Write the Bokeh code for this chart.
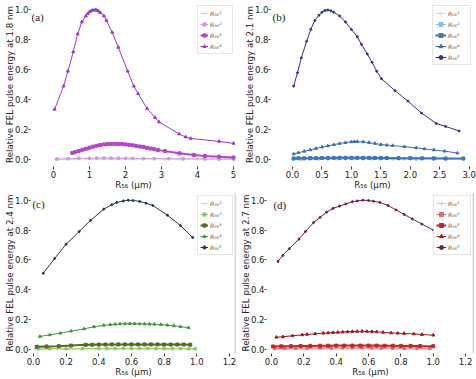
from bokeh.plotting import figure
from bokeh.layouts import column, row
from bokeh.models import FixedTicker, Label, Span, PrintfTickFormatter
from bokeh.embed import file_html
from bokeh.resources import INLINE

# ---------------- data ----------------
# panel (a) 1.8 nm
A_R1_x = [0.05, 0.3, 0.6, 0.9, 1.1, 1.3, 1.5, 1.7, 1.9, 2.1, 2.3, 2.5, 2.8, 3.1, 3.5, 4.0, 4.4, 4.7, 5.0]
A_R1_y = [0.001, 0.002, 0.002, 0.003, 0.003, 0.003, 0.003, 0.003, 0.003, 0.003, 0.002, 0.002, 0.002, 0.002, 0.001, 0.001, 0.001, 0.001, 0.001]
A_R2_x = [0.1, 0.4, 0.7, 1.0, 1.2, 1.4, 1.6, 1.8, 2.0, 2.2, 2.5, 2.8, 3.2, 3.6, 4.2, 4.6, 5.0]
A_R2_y = [0.002, 0.004, 0.006, 0.007, 0.008, 0.008, 0.008, 0.007, 0.007, 0.006, 0.005, 0.005, 0.004, 0.003, 0.003, 0.002, 0.002]
A_R3_x = [0.52, 0.6, 0.7, 0.8, 0.9, 1.0, 1.1, 1.2, 1.3, 1.4, 1.5, 1.6, 1.7, 1.8, 1.9, 2.0, 2.1, 2.2, 2.3, 2.4,
          2.5, 2.6, 2.7, 2.8, 2.9, 3.1, 3.5, 3.9, 4.2, 4.6, 5.0]
A_R3_y = [0.043, 0.048, 0.056, 0.064, 0.071, 0.078, 0.085, 0.091, 0.096, 0.1, 0.102, 0.103, 0.104, 0.103, 0.102,
          0.1, 0.097, 0.094, 0.09, 0.086, 0.082, 0.077, 0.072, 0.067, 0.062, 0.055, 0.04, 0.029, 0.022, 0.018, 0.012]
A_R4_x = [0.03, 0.28, 0.4, 0.55, 0.67, 0.79, 0.9, 0.95, 1.0, 1.05, 1.1, 1.16, 1.2, 1.25, 1.3, 1.4, 1.47, 1.63,
          1.8, 2.06, 2.23, 2.35, 2.6, 2.82, 2.93, 3.49, 3.67, 3.81, 4.6, 5.0]
A_R4_y = [0.335, 0.49, 0.59, 0.72, 0.84, 0.92, 0.96, 0.975, 0.988, 0.995, 0.999, 1.0, 0.998, 0.992, 0.982, 0.96,
          0.93, 0.85, 0.75, 0.59, 0.49, 0.44, 0.34, 0.28, 0.25, 0.17, 0.15, 0.14, 0.12, 0.107]

# panel (b) 2.1 nm
B_R1_x = [0.0, 0.2, 0.4, 0.6, 0.8, 1.0, 1.2, 1.4, 1.6, 1.8, 2.0, 2.2, 2.4, 2.6, 2.9]
B_R1_y = [0.001, 0.001, 0.001, 0.002, 0.002, 0.002, 0.002, 0.002, 0.002, 0.001, 0.001, 0.001, 0.001, 0.001, 0.001]
B_R2_x = [0.02, 0.15, 0.3, 0.45, 0.6, 0.75, 0.9, 1.05, 1.2, 1.35, 1.5, 1.7, 1.9, 2.1, 2.4, 2.6, 2.9]
B_R2_y = [0.003, 0.003, 0.004, 0.004, 0.004, 0.005, 0.005, 0.005, 0.005, 0.005, 0.004, 0.004, 0.004, 0.003, 0.003, 0.003, 0.003]
B_R3_x = [0.02, 0.1, 0.2, 0.3, 0.4, 0.5, 0.6, 0.7, 0.8, 0.9, 1.0, 1.1, 1.2, 1.3, 1.4, 1.5, 1.6, 1.8, 2.0, 2.2,
          2.4, 2.6, 2.9]
B_R3_y = [0.006, 0.007, 0.007, 0.008, 0.008, 0.009, 0.009, 0.01, 0.01, 0.01, 0.01, 0.01, 0.01, 0.01, 0.009, 0.009,
          0.009, 0.008, 0.008, 0.007, 0.007, 0.006, 0.006]
B_R4_x = [0.02, 0.1, 0.2, 0.3, 0.4, 0.5, 0.6, 0.7, 0.8, 0.9, 1.0, 1.05, 1.1, 1.2, 1.3, 1.4, 1.5, 1.6, 1.7, 1.9,
          2.1, 2.24, 2.4, 2.58, 2.8]
B_R4_y = [0.036, 0.044, 0.054, 0.063, 0.073, 0.082, 0.09, 0.098, 0.106, 0.112, 0.117, 0.119, 0.119, 0.117, 0.112,
          0.106, 0.099, 0.095, 0.092, 0.085, 0.077, 0.07, 0.063, 0.055, 0.042]
B_R5_x = [0.02, 0.085, 0.15, 0.24, 0.31, 0.38, 0.45, 0.5, 0.55, 0.6, 0.65, 0.7, 0.8, 0.9, 1.0, 1.1, 1.17, 1.27,
          1.35, 1.43, 1.51, 1.74, 1.96, 2.19, 2.44, 2.6, 2.83]
B_R5_y = [0.49, 0.58, 0.68, 0.79, 0.87, 0.93, 0.965, 0.985, 0.997, 1.0, 0.995, 0.985, 0.96, 0.92, 0.87, 0.82,
          0.77, 0.705, 0.65, 0.59, 0.54, 0.46, 0.39, 0.31, 0.24, 0.22, 0.19]

# panel (c) 2.4 nm
C_R1_x = [0.01, 0.08, 0.15, 0.22, 0.3, 0.38, 0.45, 0.52, 0.6, 0.68, 0.75, 0.82, 0.9, 0.99]
C_R1_y = [0.001, 0.001, 0.002, 0.002, 0.002, 0.002, 0.002, 0.002, 0.002, 0.002, 0.002, 0.002, 0.002, 0.001]
C_R2_x = [0.03, 0.1, 0.2, 0.3, 0.4, 0.45, 0.5, 0.55, 0.6, 0.65, 0.7, 0.75, 0.8, 0.85, 0.9, 0.95, 0.99]
C_R2_y = [0.004, 0.005, 0.005, 0.006, 0.006, 0.006, 0.007, 0.007, 0.007, 0.007, 0.007, 0.006, 0.006, 0.006, 0.006, 0.005, 0.005]
C_R3_x = [0.02, 0.08, 0.155, 0.23, 0.32, 0.36, 0.4, 0.44, 0.48, 0.52, 0.56, 0.6, 0.64, 0.68, 0.72, 0.76, 0.8,
          0.84, 0.88, 0.92, 0.96]
C_R3_y = [0.018, 0.02, 0.022, 0.026, 0.031, 0.032, 0.033, 0.033, 0.034, 0.034, 0.034, 0.034, 0.034, 0.034, 0.034,
          0.034, 0.033, 0.033, 0.033, 0.033, 0.032]
C_R4_x = [0.04, 0.1, 0.165, 0.23, 0.31, 0.37, 0.43, 0.47, 0.5, 0.53, 0.56, 0.59, 0.62, 0.65, 0.68, 0.71, 0.74,
          0.78, 0.82, 0.86, 0.9, 0.95]
C_R4_y = [0.087, 0.098, 0.109, 0.123, 0.138, 0.152, 0.162, 0.166, 0.169, 0.171, 0.172, 0.173, 0.173, 0.172, 0.171,
          0.17, 0.169, 0.167, 0.163, 0.158, 0.153, 0.146]
C_R5_x = [0.06, 0.13, 0.2, 0.28, 0.35, 0.43, 0.48, 0.51, 0.55, 0.58, 0.61, 0.65, 0.69, 0.73, 0.82, 0.9, 0.975]
C_R5_y = [0.51, 0.61, 0.705, 0.79, 0.865, 0.94, 0.97, 0.985, 0.995, 1.0, 0.998, 0.992, 0.98, 0.965, 0.9, 0.83, 0.75]

# panel (d) 2.7 nm
D_R1_x = [0.03, 0.1, 0.18, 0.25, 0.32, 0.4, 0.47, 0.54, 0.6, 0.67, 0.74, 0.82, 0.9, 0.97]
D_R1_y = [0.002, 0.003, 0.003, 0.004, 0.004, 0.004, 0.004, 0.004, 0.004, 0.004, 0.004, 0.003, 0.003, 0.003]
D_R2_x = [0.02, 0.08, 0.15, 0.22, 0.3, 0.37, 0.44, 0.5, 0.56, 0.62, 0.68, 0.75, 0.82, 0.9, 0.98]
D_R2_y = [0.006, 0.007, 0.008, 0.009, 0.01, 0.01, 0.011, 0.011, 0.011, 0.011, 0.01, 0.01, 0.009, 0.009, 0.008]
D_R3_x = [0.01, 0.06, 0.12, 0.18, 0.24, 0.3, 0.35, 0.4, 0.45, 0.5, 0.55, 0.6, 0.65, 0.7, 0.75, 0.8, 0.86, 0.92, 1.0]
D_R3_y = [0.02, 0.021, 0.022, 0.023, 0.024, 0.025, 0.025, 0.026, 0.026, 0.026, 0.026, 0.026, 0.026, 0.025, 0.025,
          0.024, 0.024, 0.023, 0.022]
D_R4_x = [0.03, 0.07, 0.13, 0.19, 0.22, 0.27, 0.32, 0.35, 0.38, 0.41, 0.44, 0.47, 0.5, 0.53, 0.56, 0.59, 0.62,
          0.65, 0.69, 0.74, 0.78, 0.82, 0.88, 0.93, 1.0]
D_R4_y = [0.082, 0.085, 0.092, 0.098, 0.101, 0.105, 0.109, 0.111, 0.113, 0.115, 0.117, 0.119, 0.12, 0.121, 0.122,
          0.121, 0.12, 0.118, 0.115, 0.111, 0.109, 0.107, 0.104, 0.1, 0.096]
D_R5_x = [0.04, 0.07, 0.11, 0.17, 0.21, 0.26, 0.3, 0.34, 0.38, 0.42, 0.46, 0.5, 0.53, 0.565, 0.6, 0.63, 0.67,
          0.72, 0.77, 0.82, 0.87, 0.93, 1.0]
D_R5_y = [0.59, 0.63, 0.675, 0.74, 0.79, 0.85, 0.885, 0.92, 0.945, 0.96, 0.975, 0.99, 0.995, 1.0, 0.998, 0.993,
          0.985, 0.965, 0.935, 0.905, 0.875, 0.84, 0.8]

LABELS = ["R₅₆¹", "R₅₆²", "R₅₆³", "R₅₆⁴", "R₅₆⁵"]
Y_TICKS = [0.0, 0.2, 0.4, 0.6, 0.8, 1.0]

FONT = "DejaVu Sans"
MARKERS = ["cross", "square", "square", "triangle", "circle"]
MSIZE = [3, 2.5, 3, 3, 2]
LW = [1, 1, 2, 1, 1]


def panel(width, height, xr, yr, bl, br, bt, bb, xticks, xfmt, ylabel, letter, letter_xy, series, colors, gw,
          vline=False):
    p = figure(width=width, height=height, x_range=xr, y_range=yr,
               output_backend="svg", toolbar_location=None,
               min_border_left=bl, min_border_right=br, min_border_top=bt, min_border_bottom=bb)
    p.outline_line_color = None
    p.grid.visible = False
    p.background_fill_color = "white"
    for ax in (p.xaxis[0], p.yaxis[0]):
        ax.axis_line_color = None
        ax.major_tick_line_color = "#444444"
        ax.major_tick_in = 0
        ax.minor_tick_line_color = None
        ax.major_label_text_font = FONT
        ax.major_label_text_font_size = "8.5px"
        ax.major_label_text_color = "#222222"
        ax.axis_label_text_font = FONT
        ax.axis_label_text_font_size = "8.7px"
        ax.axis_label_text_font_style = "normal"
        ax.axis_label_text_color = "#222222"
    p.xaxis.major_tick_out = 3
    p.xaxis.major_label_standoff = 1
    p.xaxis.axis_label_standoff = -1
    p.yaxis.major_tick_out = 2
    p.yaxis.major_label_standoff = 0
    p.yaxis.axis_label_standoff = -3
    p.xaxis.ticker = FixedTicker(ticks=xticks)
    p.yaxis.ticker = FixedTicker(ticks=Y_TICKS)
    p.xaxis.formatter = PrintfTickFormatter(format=xfmt)
    p.yaxis.formatter = PrintfTickFormatter(format="%.1f")
    p.xaxis.axis_label = "R₅₆ (μm)"
    p.yaxis.axis_label = ylabel
    if vline:
        p.add_layout(Span(location=xr[1] - 0.006, dimension="height", line_color="#d6d6d6", line_width=2))
    for i, (xs, ys) in enumerate(series):
        c = colors[i]
        p.line(xs, ys, line_color=c, line_width=LW[i], legend_label=LABELS[i])
        p.scatter(xs, ys, marker=MARKERS[i], size=MSIZE[i], line_color=c, fill_color=c,
                  legend_label=LABELS[i])
    lg = p.legend[0]
    lg.location = "top_right"
    lg.margin = 3
    lg.padding = 2
    lg.spacing = 1
    lg.label_height = 10
    lg.glyph_height = 10
    lg.glyph_width = gw
    lg.label_standoff = 2
    lg.label_text_font = FONT
    lg.label_text_font_size = "6px"
    lg.label_text_font_style = "italic"
    lg.label_text_color = "#555555"
    lg.border_line_color = "#cccccc"
    lg.background_fill_alpha = 0.85
    p.add_layout(Label(x=letter_xy[0], y=letter_xy[1], text=letter, text_font="Liberation Serif",
                       text_font_size="11px", text_baseline="middle", text_align="left", text_color="#222222"))
    return p


TOP_Y = (-0.048, 1.05)
BOT_Y = (-0.027, 1.0516)

pa = panel(236, 192, (-0.639, 5.083), TOP_Y, 30, 0, 2, 26, [0, 1, 2, 3, 4, 5], "%d",
           "Relative FEL pulse energy at 1.8 nm", "(a)", (-0.611, 0.955),
           [(A_R1_x, A_R1_y), (A_R2_x, A_R2_y), (A_R3_x, A_R3_y), (A_R4_x, A_R4_y)],
           ["#e6c4ec", "#d39ade", "#b447c8", "#9a3ccb"], 8)
pb = panel(240, 192, (-0.3735, 3.09), TOP_Y, 34, 2, 2, 26, [0.0, 0.5, 1.0, 1.5, 2.0, 2.5, 3.0], "%.1f",
           "Relative FEL pulse energy at 2.1 nm", "(b)", (-0.34, 0.955),
           [(B_R1_x, B_R1_y), (B_R2_x, B_R2_y), (B_R3_x, B_R3_y), (B_R4_x, B_R4_y), (B_R5_x, B_R5_y)],
           ["#b8def4", "#86c1ea", "#3b78bf", "#3a72ad", "#2f3586"], 11)
pc = panel(236, 187, (-0.018, 1.243), BOT_Y, 30, 0, 0, 26, [0.0, 0.2, 0.4, 0.6, 0.8, 1.0, 1.2], "%.1f",
           "Relative FEL pulse energy at 2.4 nm", "(c)", (-0.006, 0.975),
           [(C_R1_x, C_R1_y), (C_R2_x, C_R2_y), (C_R3_x, C_R3_y), (C_R4_x, C_R4_y), (C_R5_x, C_R5_y)],
           ["#c6e8ae", "#92cb5c", "#56682f", "#3e9a3e", "#22384a"], 8, vline=True)
pd = panel(240, 187, (-0.031, 1.255), BOT_Y, 30, 2, 0, 26, [0.0, 0.2, 0.4, 0.6, 0.8, 1.0, 1.2], "%.1f",
           "Relative FEL pulse energy at 2.7 nm", "(d)", (0.012, 0.97),
           [(D_R1_x, D_R1_y), (D_R2_x, D_R2_y), (D_R3_x, D_R3_y), (D_R4_x, D_R4_y), (D_R5_x, D_R5_y)],
           ["#f5b6bf", "#de6e70", "#bb2a2a", "#9e1b1b", "#6c2050"], 10, vline=True)

layout = column(row(pa, pb), row(pc, pd))

open("out.html", "w").write(file_html(layout, INLINE))
